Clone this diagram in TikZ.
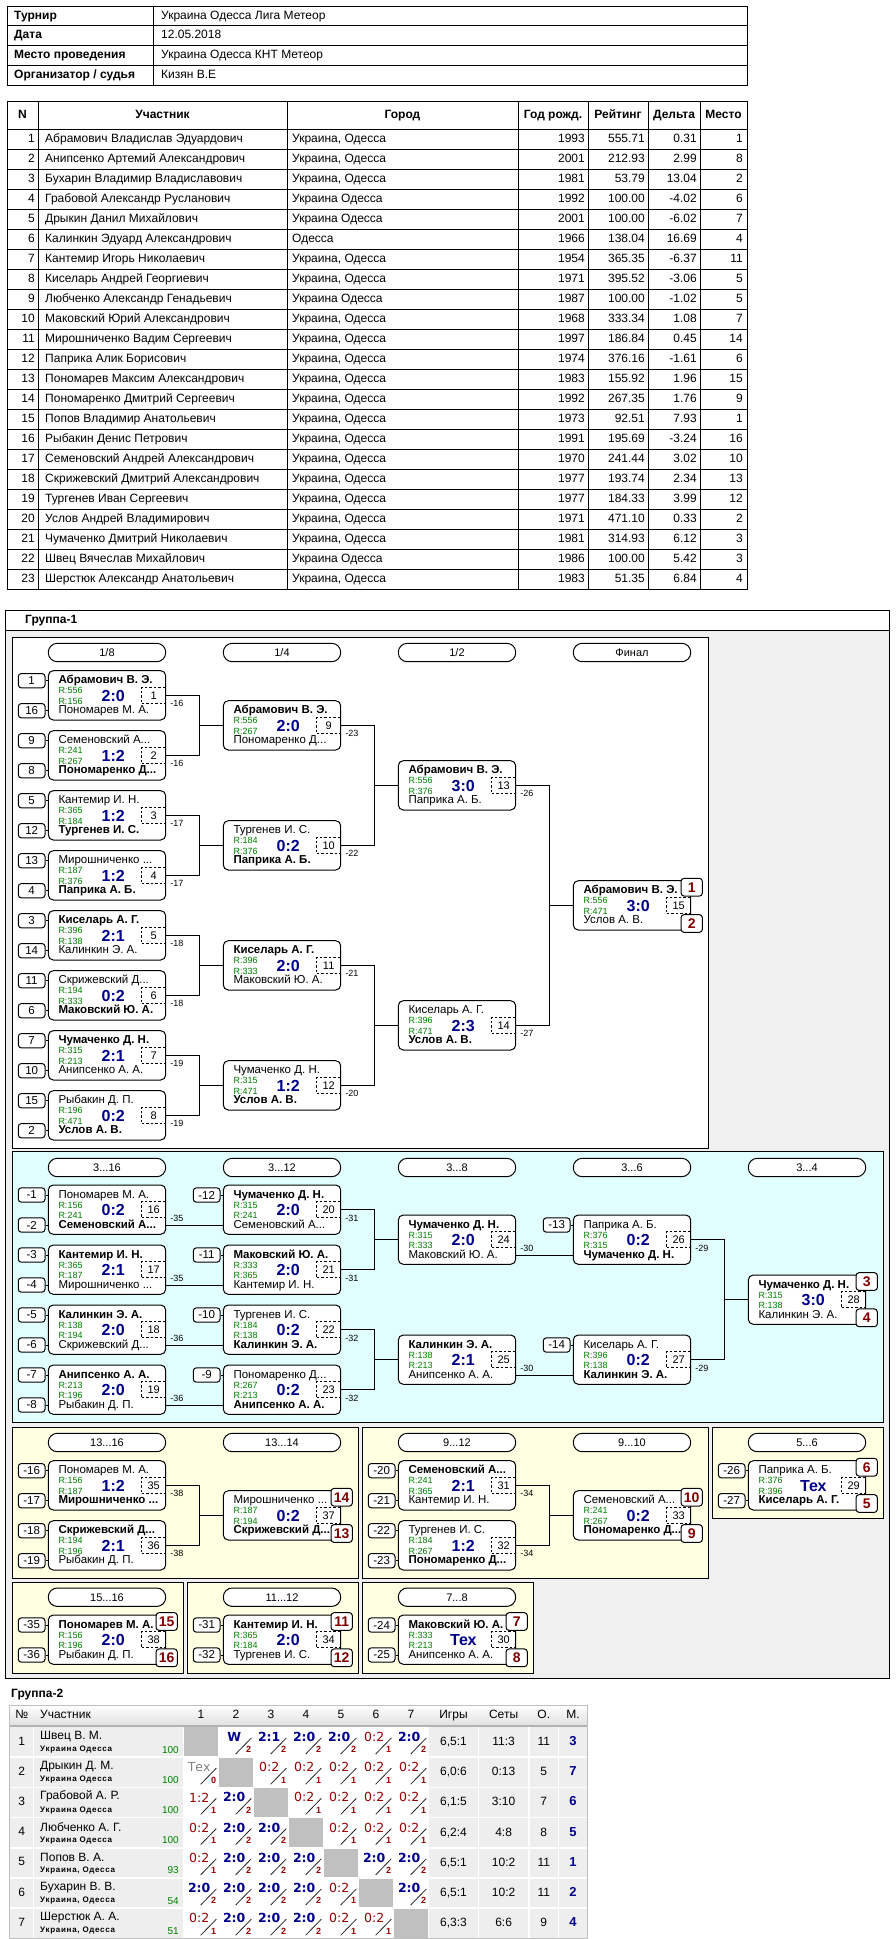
\documentclass[tikz,border=0pt]{standalone}
\usepackage{fontspec}
\setmainfont{Liberation Sans}
\newfontfamily\wideface{DejaVu Sans}
\newfontfamily\spacedface[LetterSpace=9]{Liberation Sans}
\usetikzlibrary{positioning}

\definecolor{scoreblue}{RGB}{0,0,139}
\definecolor{rgreen}{RGB}{0,128,0}
\definecolor{placered}{RGB}{128,0,0}
\definecolor{lossred}{RGB}{150,0,0}
\definecolor{cyanbg}{RGB}{225,255,255}
\definecolor{yellowbg}{RGB}{255,255,225}
\definecolor{panelgray}{RGB}{240,240,240}
\definecolor{cellgray}{RGB}{192,192,192}
\definecolor{rowgray}{RGB}{238,238,238}

% one match box: id, x, top, upper name, rating 1, rating 2, score, number, lower name
\newcommand{\bmatch}[9]{
  \node[mbox] (#1) at ({#2+58.7},{#3+24.65}) {};
  \node[pname] (#1a) at ({#2+10},{#3+10}) {#4};
  \node[rating] (#1r) at ({#2+10},{#3+20}) {#5};
  \node[rating] (#1s) at ({#2+10},{#3+30.3}) {#6};
  \node[score] (#1c) at ({#2+65},{#3+25}) {#7};
  \node[numbox] (#1n) at ({#2+105.4},{#3+24.65}) {#8};
  \node[pname] (#1b) at ({#2+10},{#3+40}) {#9};
}
% seeds in front of a match
\newcommand{\bseeds}[5]{
  \node[seedbox] (#1u) at ({#2-16.65},{#3+10}) {#4};
  \node[seedbox] (#1v) at ({#2-16.65},{#3+40}) {#5};
  \draw[link] (#1u.east) -- (#1u.east -| #1.west);
  \draw[link] (#1v.east) -- (#1v.east -| #1.west);
}
\newcommand{\bseed}[4]{
  \node[seedbox] (#1u) at ({#2-16.65},{#3+10}) {#4};
  \draw[link] (#1u.east) -- (#1u.east -| #1.west);
}
% places won in a last match
\newcommand{\bplace}[5]{
  \node[placebox] (#1p) at ({#2+118.4},{#3+6.5}) {#4};
  \node[placebox] (#1q) at ({#2+118.4},{#3+42.8}) {#5};
}
% loser label, two matches into one, winner into the lower slot
\newcommand{\bloser}[2]{\node[lose] (#1l) at ([xshift=4pt,yshift=-8.35pt]#1.east) {#2};}
\newcommand{\bjoin}[3]{
  \draw[link] (#1.east) -- ++(33.6,0) |- (#3.west);
  \draw[link] (#2.east) -- ++(33.6,0) |- (#3.west);
}
\newcommand{\bpass}[2]{\draw[link] ([yshift=9.3pt]#1.south east) -- ([yshift=9.3pt]#2.south west);}

\begin{document}
\begin{tikzpicture}[x=1pt, y=-1pt,
    link/.style={line width=1pt},
    mbox/.style={draw, line width=1pt, rounded corners=5pt, fill=white, minimum width=117.4pt, minimum height=49.3pt, inner sep=0pt},
    pill/.style={draw, line width=1pt, rounded corners=9pt, fill=white, minimum width=117.4pt, minimum height=18.4pt, inner sep=0pt, font=\fontsize{11}{12}\selectfont},
    seedbox/.style={draw, line width=1pt, rounded corners=3pt, fill=white, minimum width=26.7pt, minimum height=14.3pt, inner sep=0pt, font=\fontsize{11.5}{12}\selectfont},
    numbox/.style={draw, line width=0.8pt, dash pattern=on 2.5pt off 2pt, minimum width=24pt, minimum height=16pt, inner sep=0pt, font=\fontsize{11}{12}\selectfont},
    placebox/.style={draw, line width=1pt, rounded corners=3pt, fill=white, minimum width=21.3pt, minimum height=17.7pt, inner sep=0pt, text=placered, font=\bfseries\fontsize{14}{14}\selectfont},
    pname/.style={anchor=west, inner sep=0pt, text height=8.3pt, text depth=2.2pt, font=\fontsize{11.5}{12}\selectfont},
    rating/.style={anchor=west, inner sep=0pt, text=rgreen, font=\fontsize{9}{9}\selectfont},
    score/.style={inner sep=0pt, text=scoreblue, font=\bfseries\fontsize{16}{16}\selectfont},
    lose/.style={anchor=west, inner sep=0pt, font=\fontsize{9}{9}\selectfont},
    panel/.style={draw, line width=1pt},
    cell/.style={inner sep=0pt, text height=8.6pt, text depth=2.4pt, font=\fontsize{12}{13}\selectfont},
    gname/.style={anchor=west, inner sep=0pt, font=\fontsize{12}{13}\selectfont},
    greg/.style={anchor=west, inner sep=0pt, font=\spacedface\bfseries\fontsize{8}{9}\selectfont},
    grate/.style={anchor=east, inner sep=0pt, text=rgreen, font=\fontsize{10}{10}\selectfont},
    cfw/.style={fill=white}, cfl/.style={fill=white}, cft/.style={fill=white}, cfx/.style={fill=cellgray},
    csw/.style={text=scoreblue, font=\wideface\bfseries\fontsize{12.5}{13}\selectfont},
    csl/.style={text=lossred, font=\wideface\fontsize{12.5}{13}\selectfont},
    cst/.style={text=gray, font=\wideface\fontsize{12.5}{13}\selectfont},
    csx/.style={text opacity=0},
    slw/.style={draw=black!85, line width=0.8pt}, sll/.style={slw}, slt/.style={slw}, slx/.style={draw=none},
    cpw/.style={text=lossred, font=\bfseries\fontsize{9}{9}\selectfont}, cpl/.style={cpw}, cpt/.style={cpw},
    cpx/.style={text opacity=0}
]
\fill[white] (0,0) rectangle (895,1939);
\useasboundingbox (0,0) rectangle (895,1939);

% Tournament header
\draw[line width=1pt] (7,6) rectangle (747,85) (153,6) -- (153,85);
\foreach \i in {1,2,3} \draw[line width=1pt] (7,{6+19.75*\i}) -- (747,{6+19.75*\i});
\foreach \i/\hk/\hv in {0/Турнир/Украина Одесса Лига Метеор, 1/Дата/12.05.2018,
    2/Место проведения/Украина Одесса КНТ Метеор, 3/{Организатор / судья}/Кизян В.Е} {
  \node[cell, anchor=west, font=\bfseries\fontsize{12}{13}\selectfont] (hk\i) at (14,{15.9+19.75*\i}) {\hk};
  \node[cell, anchor=west] (hv\i) at (161,{15.9+19.75*\i}) {\hv};
}

% Participants
\draw[line width=1pt] (7,101.4) -- (747,101.4);
\foreach \i in {0,...,23} \draw[line width=1pt] (7,{129.7+20*\i}) -- (747,{129.7+20*\i});
\foreach \x in {7,38,287,518,588,648,700,747} \draw[line width=1pt] (\x,101.4) -- (\x,589.7);
\foreach \x/\hh [count=\k] in {22.5/N, 162.5/Участник, 402.5/Город, 553/Год рожд., 618/Рейтинг, 674/Дельта, 723.5/Место}
  \node[cell, font=\bfseries\fontsize{12}{13}\selectfont] (ph\k) at (\x,115.5) {\hh};
\foreach \pn/\pnm/\pcity/\pyr/\prt/\pdl/\ppl in {
    1/Абрамович Владислав Эдуардович/{Украина, Одесса}/1993/555.71/0.31/1,
    2/Анипсенко Артемий Александрович/{Украина, Одесса}/2001/212.93/2.99/8,
    3/Бухарин Владимир Владиславович/{Украина, Одесса}/1981/53.79/13.04/2,
    4/Грабовой Александр Русланович/Украина Одесса/1992/100.00/-4.02/6,
    5/Дрыкин Данил Михайлович/Украина Одесса/2001/100.00/-6.02/7,
    6/Калинкин Эдуард Александрович/Одесса/1966/138.04/16.69/4,
    7/Кантемир Игорь Николаевич/{Украина, Одесса}/1954/365.35/-6.37/11,
    8/Киселарь Андрей Георгиевич/{Украина, Одесса}/1971/395.52/-3.06/5,
    9/Любченко Александр Генадьевич/Украина Одесса/1987/100.00/-1.02/5,
    10/Маковский Юрий Александрович/{Украина, Одесса}/1968/333.34/1.08/7,
    11/Мирошниченко Вадим Сергеевич/{Украина, Одесса}/1997/186.84/0.45/14,
    12/Паприка Алик Борисович/{Украина, Одесса}/1974/376.16/-1.61/6,
    13/Пономарев Максим Александрович/{Украина, Одесса}/1983/155.92/1.96/15,
    14/Пономаренко Дмитрий Сергеевич/{Украина, Одесса}/1992/267.35/1.76/9,
    15/Попов Владимир Анатольевич/{Украина, Одесса}/1973/92.51/7.93/1,
    16/Рыбакин Денис Петрович/{Украина, Одесса}/1991/195.69/-3.24/16,
    17/Семеновский Андрей Александрович/{Украина, Одесса}/1970/241.44/3.02/10,
    18/Скрижевский Дмитрий Александрович/{Украина, Одесса}/1977/193.74/2.34/13,
    19/Тургенев Иван Сергеевич/{Украина, Одесса}/1977/184.33/3.99/12,
    20/Услов Андрей Владимирович/{Украина, Одесса}/1971/471.10/0.33/2,
    21/Чумаченко Дмитрий Николаевич/{Украина, Одесса}/1981/314.93/6.12/3,
    22/Швец Вячеслав Михайлович/Украина Одесса/1986/100.00/5.42/3,
    23/Шерстюк Александр Анатольевич/{Украина, Одесса}/1983/51.35/6.84/4} {
  \node[cell, anchor=east] (pn\pn) at (35,{139.7+20*(\pn-1)}) {\pn};
  \node[cell, anchor=west] (pa\pn) at (45,{139.7+20*(\pn-1)}) {\pnm};
  \node[cell, anchor=west] (pc\pn) at (292,{139.7+20*(\pn-1)}) {\pcity};
  \node[cell, anchor=east] (py\pn) at (585,{139.7+20*(\pn-1)}) {\pyr};
  \node[cell, anchor=east] (pr\pn) at (645,{139.7+20*(\pn-1)}) {\prt};
  \node[cell, anchor=east] (pd\pn) at (697,{139.7+20*(\pn-1)}) {\pdl};
  \node[cell, anchor=east] (pp\pn) at (743,{139.7+20*(\pn-1)}) {\ppl};
}

% Group 1 frame and panels
\draw[panel, fill=panelgray] (5.7,610.7) rectangle (889.3,1678);
\draw[panel, fill=white] (5.7,610.7) rectangle (889.3,630.7);
\node[anchor=west, inner sep=0pt, font=\bfseries\fontsize{12}{13}\selectfont] (g1) at (25,620.7) {Группа-1};
\draw[panel, fill=white] (12.3,637.3) rectangle (708.3,1148);
\draw[panel, fill=cyanbg] (12.3,1151.7) rectangle (883.3,1422.7);
\draw[panel, fill=yellowbg] (12.3,1427.3) rectangle (358.3,1578.3);
\draw[panel, fill=yellowbg] (362.7,1427.3) rectangle (708.3,1578.3);
\draw[panel, fill=yellowbg] (712.7,1427.3) rectangle (883.3,1518.3);
\draw[panel, fill=yellowbg] (12.3,1582.3) rectangle (183.3,1673);
\draw[panel, fill=yellowbg] (187.7,1582.3) rectangle (358.3,1673);
\draw[panel, fill=yellowbg] (362.7,1582.3) rectangle (533.3,1673);

% Round headers
\node[pill] (r18) at (107,652.5) {1/8};
\node[pill] (r14) at (282,652.5) {1/4};
\node[pill] (r12) at (457,652.5) {1/2};
\node[pill] (rf) at (632,652.5) {Финал};
\node[pill] (r316) at (107,1167.5) {3...16};
\node[pill] (r312) at (282,1167.5) {3...12};
\node[pill] (r38) at (457,1167.5) {3...8};
\node[pill] (r36) at (632,1167.5) {3...6};
\node[pill] (r34) at (807,1167.5) {3...4};
\node[pill] (r1316) at (107,1442.5) {13...16};
\node[pill] (r1314) at (282,1442.5) {13...14};
\node[pill] (r912) at (457,1442.5) {9...12};
\node[pill] (r910) at (632,1442.5) {9...10};
\node[pill] (r56) at (807,1442.5) {5...6};
\node[pill] (r1516) at (107,1597.2) {15...16};
\node[pill] (r1112) at (282,1597.2) {11...12};
\node[pill] (r78) at (457,1597.2) {7...8};

% 1/8
\bmatch{m1}{48.3}{670.7}{\textbf{Абрамович В. Э.}}{R:556}{R:156}{2:0}{1}{Пономарев М. А.}
\bmatch{m2}{48.3}{730.7}{Семеновский А...}{R:241}{R:267}{1:2}{2}{\textbf{Пономаренко Д...}}
\bmatch{m3}{48.3}{790.7}{Кантемир И. Н.}{R:365}{R:184}{1:2}{3}{\textbf{Тургенев И. С.}}
\bmatch{m4}{48.3}{850.7}{Мирошниченко ...}{R:187}{R:376}{1:2}{4}{\textbf{Паприка А. Б.}}
\bmatch{m5}{48.3}{910.7}{\textbf{Киселарь А. Г.}}{R:396}{R:138}{2:1}{5}{Калинкин Э. А.}
\bmatch{m6}{48.3}{970.7}{Скрижевский Д...}{R:194}{R:333}{0:2}{6}{\textbf{Маковский Ю. А.}}
\bmatch{m7}{48.3}{1030.7}{\textbf{Чумаченко Д. Н.}}{R:315}{R:213}{2:1}{7}{Анипсенко А. А.}
\bmatch{m8}{48.3}{1090.7}{Рыбакин Д. П.}{R:196}{R:471}{0:2}{8}{\textbf{Услов А. В.}}
\bseeds{m1}{48.3}{670.7}{1}{16}
\bseeds{m2}{48.3}{730.7}{9}{8}
\bseeds{m3}{48.3}{790.7}{5}{12}
\bseeds{m4}{48.3}{850.7}{13}{4}
\bseeds{m5}{48.3}{910.7}{3}{14}
\bseeds{m6}{48.3}{970.7}{11}{6}
\bseeds{m7}{48.3}{1030.7}{7}{10}
\bseeds{m8}{48.3}{1090.7}{15}{2}

% 1/4, 1/2 and final
\bmatch{m9}{223.3}{700.7}{\textbf{Абрамович В. Э.}}{R:556}{R:267}{2:0}{9}{Пономаренко Д...}
\bmatch{m10}{223.3}{820.7}{Тургенев И. С.}{R:184}{R:376}{0:2}{10}{\textbf{Паприка А. Б.}}
\bmatch{m11}{223.3}{940.7}{\textbf{Киселарь А. Г.}}{R:396}{R:333}{2:0}{11}{Маковский Ю. А.}
\bmatch{m12}{223.3}{1060.7}{Чумаченко Д. Н.}{R:315}{R:471}{1:2}{12}{\textbf{Услов А. В.}}
\bmatch{m13}{398.3}{760.7}{\textbf{Абрамович В. Э.}}{R:556}{R:376}{3:0}{13}{Паприка А. Б.}
\bmatch{m14}{398.3}{1000.7}{Киселарь А. Г.}{R:396}{R:471}{2:3}{14}{\textbf{Услов А. В.}}
\bmatch{m15}{573.3}{880.7}{\textbf{Абрамович В. Э.}}{R:556}{R:471}{3:0}{15}{Услов А. В.}
\bplace{m15}{573.3}{880.7}{1}{2}

\bjoin{m1}{m2}{m9}
\bjoin{m3}{m4}{m10}
\bjoin{m5}{m6}{m11}
\bjoin{m7}{m8}{m12}
\bjoin{m9}{m10}{m13}
\bjoin{m11}{m12}{m14}
\bjoin{m13}{m14}{m15}
\bloser{m1}{-16} \bloser{m2}{-16} \bloser{m3}{-17} \bloser{m4}{-17}
\bloser{m5}{-18} \bloser{m6}{-18} \bloser{m7}{-19} \bloser{m8}{-19}
\bloser{m9}{-23} \bloser{m10}{-22} \bloser{m11}{-21} \bloser{m12}{-20}
\bloser{m13}{-26} \bloser{m14}{-27}

% 3...16 to 3...4
\bmatch{m16}{48.3}{1185}{Пономарев М. А.}{R:156}{R:241}{0:2}{16}{\textbf{Семеновский А...}}
\bmatch{m17}{48.3}{1245}{\textbf{Кантемир И. Н.}}{R:365}{R:187}{2:1}{17}{Мирошниченко ...}
\bmatch{m18}{48.3}{1305}{\textbf{Калинкин Э. А.}}{R:138}{R:194}{2:0}{18}{Скрижевский Д...}
\bmatch{m19}{48.3}{1365}{\textbf{Анипсенко А. А.}}{R:213}{R:196}{2:0}{19}{Рыбакин Д. П.}
\bseeds{m16}{48.3}{1185}{-1}{-2}
\bseeds{m17}{48.3}{1245}{-3}{-4}
\bseeds{m18}{48.3}{1305}{-5}{-6}
\bseeds{m19}{48.3}{1365}{-7}{-8}
\bmatch{m20}{223.3}{1185}{\textbf{Чумаченко Д. Н.}}{R:315}{R:241}{2:0}{20}{Семеновский А...}
\bmatch{m21}{223.3}{1245}{\textbf{Маковский Ю. А.}}{R:333}{R:365}{2:0}{21}{Кантемир И. Н.}
\bmatch{m22}{223.3}{1305}{Тургенев И. С.}{R:184}{R:138}{0:2}{22}{\textbf{Калинкин Э. А.}}
\bmatch{m23}{223.3}{1365}{Пономаренко Д...}{R:267}{R:213}{0:2}{23}{\textbf{Анипсенко А. А.}}
\bseed{m20}{223.3}{1185}{-12}
\bseed{m21}{223.3}{1245}{-11}
\bseed{m22}{223.3}{1305}{-10}
\bseed{m23}{223.3}{1365}{-9}
\bmatch{m24}{398.3}{1215}{\textbf{Чумаченко Д. Н.}}{R:315}{R:333}{2:0}{24}{Маковский Ю. А.}
\bmatch{m25}{398.3}{1335}{\textbf{Калинкин Э. А.}}{R:138}{R:213}{2:1}{25}{Анипсенко А. А.}
\bmatch{m26}{573.3}{1215}{Паприка А. Б.}{R:376}{R:315}{0:2}{26}{\textbf{Чумаченко Д. Н.}}
\bmatch{m27}{573.3}{1335}{Киселарь А. Г.}{R:396}{R:138}{0:2}{27}{\textbf{Калинкин Э. А.}}
\bseed{m26}{573.3}{1215}{-13}
\bseed{m27}{573.3}{1335}{-14}
\bmatch{m28}{748.3}{1275}{\textbf{Чумаченко Д. Н.}}{R:315}{R:138}{3:0}{28}{Калинкин Э. А.}
\bplace{m28}{748.3}{1275}{3}{4}

\bpass{m16}{m20} \bpass{m17}{m21} \bpass{m18}{m22} \bpass{m19}{m23}
\bjoin{m20}{m21}{m24}
\bjoin{m22}{m23}{m25}
\bpass{m24}{m26} \bpass{m25}{m27}
\bjoin{m26}{m27}{m28}
\bloser{m16}{-35} \bloser{m17}{-35} \bloser{m18}{-36} \bloser{m19}{-36}
\bloser{m20}{-31} \bloser{m21}{-31} \bloser{m22}{-32} \bloser{m23}{-32}
\bloser{m24}{-30} \bloser{m25}{-30} \bloser{m26}{-29} \bloser{m27}{-29}

% 13...16, 9...12, 5...6
\bmatch{m35}{48.3}{1460.7}{Пономарев М. А.}{R:156}{R:187}{1:2}{35}{\textbf{Мирошниченко ...}}
\bmatch{m36}{48.3}{1520.7}{\textbf{Скрижевский Д...}}{R:194}{R:196}{2:1}{36}{Рыбакин Д. П.}
\bseeds{m35}{48.3}{1460.7}{-16}{-17}
\bseeds{m36}{48.3}{1520.7}{-18}{-19}
\bmatch{m37}{223.3}{1490.7}{Мирошниченко ...}{R:187}{R:194}{0:2}{37}{\textbf{Скрижевский Д...}}
\bplace{m37}{223.3}{1490.7}{14}{13}
\bjoin{m35}{m36}{m37}
\bloser{m35}{-38} \bloser{m36}{-38}

\bmatch{m31}{398.3}{1460.7}{\textbf{Семеновский А...}}{R:241}{R:365}{2:1}{31}{Кантемир И. Н.}
\bmatch{m32}{398.3}{1520.7}{Тургенев И. С.}{R:184}{R:267}{1:2}{32}{\textbf{Пономаренко Д...}}
\bseeds{m31}{398.3}{1460.7}{-20}{-21}
\bseeds{m32}{398.3}{1520.7}{-22}{-23}
\bmatch{m33}{573.3}{1490.7}{Семеновский А...}{R:241}{R:267}{0:2}{33}{\textbf{Пономаренко Д...}}
\bplace{m33}{573.3}{1490.7}{10}{9}
\bjoin{m31}{m32}{m33}
\bloser{m31}{-34} \bloser{m32}{-34}

\bmatch{m29}{748.3}{1460.7}{Паприка А. Б.}{R:376}{R:396}{Тех}{29}{\textbf{Киселарь А. Г.}}
\bseeds{m29}{748.3}{1460.7}{-26}{-27}
\bplace{m29}{748.3}{1460.7}{6}{5}

% 15...16, 11...12, 7...8
\bmatch{m38}{48.3}{1615}{\textbf{Пономарев М. А.}}{R:156}{R:196}{2:0}{38}{Рыбакин Д. П.}
\bseeds{m38}{48.3}{1615}{-35}{-36}
\bplace{m38}{48.3}{1615}{15}{16}
\bmatch{m34}{223.3}{1615}{\textbf{Кантемир И. Н.}}{R:365}{R:184}{2:0}{34}{Тургенев И. С.}
\bseeds{m34}{223.3}{1615}{-31}{-32}
\bplace{m34}{223.3}{1615}{11}{12}
\bmatch{m30}{398.3}{1615}{\textbf{Маковский Ю. А.}}{R:333}{R:213}{Тех}{30}{Анипсенко А. А.}
\bseeds{m30}{398.3}{1615}{-24}{-25}
\bplace{m30}{398.3}{1615}{7}{8}

% Group 2
\node[anchor=west, inner sep=0pt, font=\bfseries\fontsize{12}{13}\selectfont] (g2) at (11,1694.5) {Группа-2};
\shade[top color=white, bottom color=gray!25] (9.6,1705) rectangle (587.4,1726);
\draw[gray!60, line width=1.5pt] (9.6,1726) -- (587.4,1726);
\foreach \x/\hh [count=\k] in {21.8/№, 201/1, 236/2, 271/3, 306/4, 341/5, 376/6, 411/7, 453.5/Игры, 503.6/Сеты, 543.8/О., 573/М.}
  \node[cell] (gh\k) at (\x,1715.5) {\hh};
\node[cell, anchor=west] (ghn) at (40,1715.5) {Участник};
\foreach \gr/\gnm/\greg/\grt/\gcells/\ggm/\gst/\gpts/\gpl in {
    1/Швец В. М./Украина Одесса/100/{x/-/-,w/W/2,w/2:1/2,w/2:0/2,w/2:0/2,l/0:2/1,w/2:0/2}/{6,5:1}/11:3/11/3,
    2/Дрыкин Д. М./Украина Одесса/100/{t/Тех/0,x/-/-,l/0:2/1,l/0:2/1,l/0:2/1,l/0:2/1,l/0:2/1}/{6,0:6}/0:13/5/7,
    3/Грабовой А. Р./Украина Одесса/100/{l/1:2/1,w/2:0/2,x/-/-,l/0:2/1,l/0:2/1,l/0:2/1,l/0:2/1}/{6,1:5}/3:10/7/6,
    4/Любченко А. Г./Украина Одесса/100/{l/0:2/1,w/2:0/2,w/2:0/2,x/-/-,l/0:2/1,l/0:2/1,l/0:2/1}/{6,2:4}/4:8/8/5,
    5/Попов В. А./{Украина, Одесса}/93/{l/0:2/1,w/2:0/2,w/2:0/2,w/2:0/2,x/-/-,w/2:0/2,w/2:0/2}/{6,5:1}/10:2/11/1,
    6/Бухарин В. В./{Украина, Одесса}/54/{w/2:0/2,w/2:0/2,w/2:0/2,w/2:0/2,l/0:2/1,x/-/-,w/2:0/2}/{6,5:1}/10:2/11/2,
    7/Шерстюк А. А./{Украина, Одесса}/51/{l/0:2/1,w/2:0/2,w/2:0/2,w/2:0/2,l/0:2/1,l/0:2/1,x/-/-}/{6,3:3}/6:6/9/4} {
  \pgfmathsetmacro{\grow}{1727+(\gr-1)*30.2}
  \fill[rowgray] (9.6,\grow) rectangle (587.4,{\grow+30.2});
  \node[cell] (gi\gr) at (21.8,{\grow+15}) {\gr};
  \node[gname] (gn\gr) at (40,{\grow+9.2}) {\gnm};
  \node[greg] (ge\gr) at (40,{\grow+22.7}) {\greg};
  \node[grate] (gr\gr) at (179,{\grow+22.7}) {\grt};
  \foreach \tp/\gsc/\gpt [count=\gc] in \gcells {
    \pgfmathsetmacro{\gcl}{183.7+(\gc-1)*35}
    \fill[cf\tp] (\gcl,\grow) rectangle ({\gcl+35},{\grow+30.2});
    \node[inner sep=0pt, cs\tp] (gs\gr\gc) at ({\gcl+15.5},{\grow+10}) {\gsc};
    \draw[sl\tp] ({\gcl+17},{\grow+27}) -- ({\gcl+32.6},{\grow+11});
    \node[inner sep=0pt, cp\tp] (gp\gr\gc) at ({\gcl+30},{\grow+22.7}) {\gpt};
  }
  \node[cell] (gg\gr) at (453.5,{\grow+15.3}) {\ggm};
  \node[cell] (gt\gr) at (503.6,{\grow+15.3}) {\gst};
  \node[cell] (go\gr) at (543.8,{\grow+15.3}) {\gpts};
  \node[cell, text=scoreblue, font=\bfseries\fontsize{13}{13}\selectfont] (gm\gr) at (573,{\grow+15.3}) {\gpl};
}
\foreach \x in {33.7,183.7,218.7,253.7,288.7,323.7,358.7,393.7,428.7,478.4,528.9,558.7}
  \draw[white, line width=1.5pt] (\x,1727) -- (\x,1938.4);
\foreach \i in {1,...,6}
  \draw[white, line width=1.5pt] (9.6,{1727+30.2*\i}) -- (587.4,{1727+30.2*\i});
\draw[gray!50, line width=0.8pt] (9.6,1705) rectangle (587.4,1938.4);
\end{tikzpicture}
\end{document}
